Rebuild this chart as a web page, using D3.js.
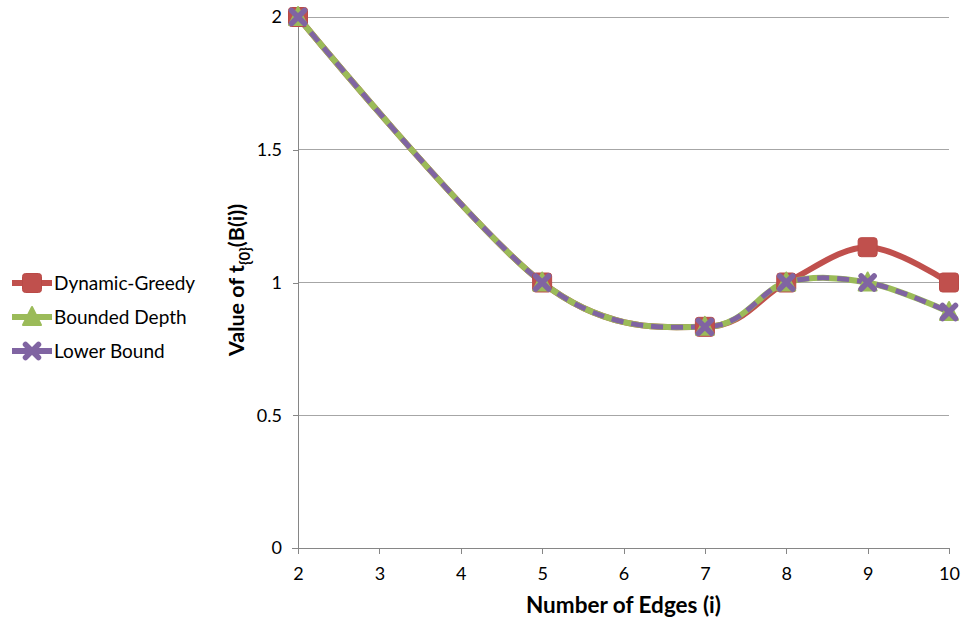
<!DOCTYPE html>
<html><head><meta charset="utf-8">
<script src="https://cdn.jsdelivr.net/npm/d3@7/dist/d3.min.js"></script>
<style>body{margin:0;background:#fff}svg{display:block}text{font-family:Lato,"Liberation Sans",sans-serif;fill:#000}</style>
</head><body>
<svg id="c" width="965" height="624"></svg>
<script>
const xValues = [2, 5, 7, 8, 9, 10];
const dynamicGreedy = [2, 1, 0.833, 1, 1.133, 1];
const boundedDepth = [2, 1, 0.833, 1, 1, 0.889];
const lowerBound = [2, 1, 0.833, 1, 1, 0.889];
const xTicks = [2, 3, 4, 5, 6, 7, 8, 9, 10];
const yTicks = [0, 0.5, 1, 1.5, 2];
const seriesNames = ["Dynamic-Greedy", "Bounded Depth", "Lower Bound"];

const svg = d3.select("#c");
const x = d3.scaleLinear().domain([2, 10]).range([298, 949]);
const y = d3.scaleLinear().domain([0, 2]).range([548, 17]);

// gridlines
svg.append("g").selectAll("line").data(yTicks.filter(d => d > 0)).join("line")
  .attr("x1", x(2)).attr("x2", x(10)).attr("y1", d => y(d)).attr("y2", d => y(d))
  .attr("stroke", "#a6a6a6").attr("stroke-width", 1).attr("shape-rendering", "crispEdges");

// axes
const xAxis = d3.axisBottom(x).tickValues(xTicks).tickSize(6).tickPadding(13).tickFormat(d3.format("d"));
const gx = svg.append("g").attr("transform", `translate(0,${y(0)})`).call(xAxis);
const yAxis = d3.axisLeft(y).tickValues(yTicks).tickSize(6).tickPadding(10).tickFormat(d => String(d));
const gy = svg.append("g").attr("transform", `translate(${x(2)},0)`).call(yAxis);
[gx, gy].forEach(g => {
  g.select(".domain").attr("stroke", "#868686").attr("stroke-width", 1);
  g.selectAll(".tick line").attr("stroke", "#868686");
  g.selectAll("text").style("font-size", "18px").style("font-family", "Lato, sans-serif").attr("fill", "#000");
  g.attr("shape-rendering", "crispEdges");
});
gy.selectAll(".tick line").attr("x2", -5);

const colors = ["#c0504d", "#9bbb59", "#8064a2"];
const curve = d3.curveCardinal.tension(0);
const line = d3.line().x((d, i) => x(xValues[i])).y(d => y(d)).curve(curve);

// series lines
svg.append("path").attr("d", line(dynamicGreedy)).attr("fill", "none").attr("stroke", colors[0]).attr("stroke-width", 6);
svg.append("path").attr("d", line(boundedDepth)).attr("fill", "none").attr("stroke", colors[1]).attr("stroke-width", 6);
svg.append("path").attr("d", line(lowerBound)).attr("fill", "none").attr("stroke", colors[2]).attr("stroke-width", 5)
  .attr("stroke-dasharray", "12,8");

// marker drawers
function square(g, cx, cy) {
  g.append("rect").attr("x", cx - 9.5).attr("y", cy - 9.5).attr("width", 19).attr("height", 19)
    .attr("rx", 3).attr("fill", colors[0]).attr("stroke", "#b94a47").attr("stroke-width", 1);
}
function tri(g, cx, cy) {
  g.append("path").attr("d", `M${cx},${cy - 10} L${cx + 9},${cy + 8} L${cx - 9},${cy + 8} Z`)
    .attr("fill", colors[1]).attr("stroke", colors[1]).attr("stroke-width", 2).attr("stroke-linejoin", "round");
}
function cross(g, cx, cy) {
  g.append("path").attr("d", `M${cx - 6.5},${cy - 6.5} L${cx + 6.5},${cy + 6.5} M${cx + 6.5},${cy - 6.5} L${cx - 6.5},${cy + 6.5}`)
    .attr("stroke", colors[2]).attr("stroke-width", 5.5).attr("stroke-linecap", "round");
}
const mg = svg.append("g");
dynamicGreedy.forEach((v, i) => square(mg, x(xValues[i]), y(v)));
boundedDepth.forEach((v, i) => tri(mg, x(xValues[i]), y(v)));
lowerBound.forEach((v, i) => cross(mg, x(xValues[i]), y(v)));

// legend
const legY = [283, 317, 351];
const drawers = [square, tri, cross];
const lg = svg.append("g");
seriesNames.forEach((name, i) => {
  const ly = legY[i];
  lg.append("line").attr("x1", 12).attr("x2", 52).attr("y1", ly).attr("y2", ly)
    .attr("stroke", colors[i]).attr("stroke-width", 6);
  drawers[i](lg, 32, ly);
  lg.append("text").attr("x", 54).attr("y", ly).attr("dy", "0.35em")
    .style("font-size", "19px").text(name);
});

// axis titles
svg.append("text").attr("x", x(6)).attr("y", 613).attr("text-anchor", "middle")
  .style("font-size", "22.5px").style("font-weight", "bold").text("Number of Edges (i)");
const yt = svg.append("text").attr("transform", "translate(244,280) rotate(-90)").attr("text-anchor", "middle")
  .style("font-size", "21.5px").style("font-weight", "bold");
yt.append("tspan").text("Value of t");
yt.append("tspan").attr("dy", 6).style("font-size", "15px").text("{0}");
yt.append("tspan").attr("dy", -6).text("(B(i))");
</script>
</body></html>
